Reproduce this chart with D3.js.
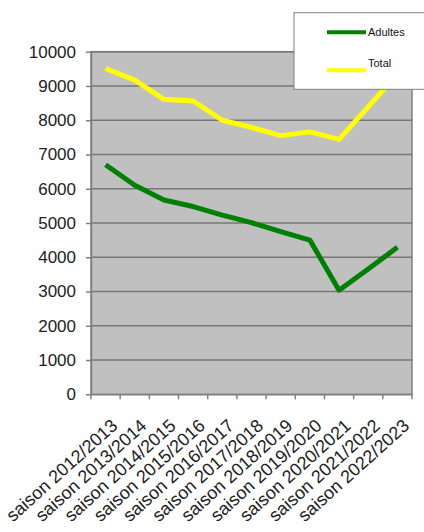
<!DOCTYPE html>
<html>
<head>
<meta charset="utf-8">
<script src="https://cdn.jsdelivr.net/npm/d3@7"></script>
<style>
  body{margin:0;background:#fff;}
  svg{display:block;font-family:"Liberation Sans",Arial,sans-serif;}
</style>
</head>
<body>
<div id="chart"></div>
<script>
const categories=["saison 2012/2013","saison 2013/2014","saison 2014/2015","saison 2015/2016",
  "saison 2016/2017","saison 2017/2018","saison 2018/2019","saison 2019/2020",
  "saison 2020/2021","saison 2021/2022","saison 2022/2023"];
const adultes=[6700,6100,5670,5480,5230,5010,4750,4500,3040,3660,4290];
const total=[9510,9170,8610,8560,8000,7790,7550,7660,7440,8390,9350];
const yTicks=[0,1000,2000,3000,4000,5000,6000,7000,8000,9000,10000];
const series=[
  {name:"Adultes",values:adultes,color:"#008000"},
  {name:"Total",values:total,color:"#ffff00"}
];

const width=424,height=532;
const plot={left:91,right:412,top:51.7,bottom:394.3};

const svg=d3.select("#chart")
    .append("svg")
    .attr("width",width)
    .attr("height",height);

const x=d3.scaleBand()
    .domain(categories)
    .range([plot.left,plot.right]);

const y=d3.scaleLinear()
    .domain([0,10000])
    .range([plot.bottom,plot.top]);

// plot background
svg.append("rect")
    .attr("x",plot.left)
    .attr("y",plot.top)
    .attr("width",plot.right-plot.left)
    .attr("height",plot.bottom-plot.top)
    .attr("fill","#c0c0c0")
    .attr("stroke","#808080")
    .attr("stroke-width",1.5);

// gridlines
svg.selectAll(".grid")
    .data(yTicks.slice(1))
    .enter()
    .append("line")
    .attr("class","grid")
    .attr("x1",plot.left)
    .attr("x2",plot.right)
    .attr("y1",d=>y(d))
    .attr("y2",d=>y(d))
    .attr("stroke","#777")
    .attr("stroke-width",1.5);

// y axis
const yAxis=svg.append("g")
    .attr("transform",`translate(${plot.left},0)`)
    .call(d3.axisLeft(y).tickValues(yTicks).tickFormat(d3.format("d"))
        .tickSize(5).tickSizeOuter(0).tickPadding(10));
yAxis.select(".domain").attr("stroke","#808080").attr("stroke-width",1.5);
yAxis.selectAll(".tick line").attr("stroke","#808080").attr("stroke-width",1.5);
yAxis.selectAll("text").attr("font-size",17).attr("fill","#222");

// x axis
const xAxis=svg.append("g")
    .attr("transform",`translate(0,${plot.bottom})`)
    .call(d3.axisBottom(x).tickSize(0).tickSizeOuter(0));
xAxis.select(".domain").attr("stroke","#808080").attr("stroke-width",1.5);
xAxis.selectAll("text")
    .attr("font-size",18)
    .attr("fill","#222")
    .attr("text-anchor","end")
    .attr("x",0)
    .attr("y",0)
    .attr("dy",0)
    .attr("transform","translate(13,33) rotate(-42)");

const bounds=categories.map(c=>x(c)).concat([x.range()[1]]);
svg.selectAll(".xtick")
    .data(bounds)
    .enter()
    .append("line")
    .attr("class","xtick")
    .attr("x1",d=>d)
    .attr("x2",d=>d)
    .attr("y1",plot.bottom)
    .attr("y2",plot.bottom+5)
    .attr("stroke","#808080")
    .attr("stroke-width",1.5);

// lines
const line=d3.line()
    .x((d,i)=>x(categories[i])+x.bandwidth()/2)
    .y(d=>y(d));

svg.selectAll(".series")
    .data(series.slice().reverse())
    .enter()
    .append("path")
    .attr("class","series")
    .attr("d",d=>line(d.values))
    .attr("fill","none")
    .attr("stroke",d=>d.color)
    .attr("stroke-width",5)
    .attr("stroke-linejoin","round");

// legend
const legend=svg.append("g");
legend.append("rect")
    .attr("x",294)
    .attr("y",12.7)
    .attr("width",140)
    .attr("height",76.6)
    .attr("fill","#fff")
    .attr("stroke","#808080")
    .attr("stroke-width",1);

const items=legend.selectAll(".item")
    .data(series)
    .enter()
    .append("g")
    .attr("class","item")
    .attr("transform",(d,i)=>`translate(327,${i===0?32.3:70.3})`);
items.append("line")
    .attr("x1",0)
    .attr("x2",39)
    .attr("stroke",d=>d.color)
    .attr("stroke-width",4);
items.append("text")
    .attr("x",41)
    .attr("y",(d,i)=>i===0?4:-3)
    .attr("font-size",11)
    .attr("fill","#111")
    .text(d=>d.name);
</script>
</body>
</html>
